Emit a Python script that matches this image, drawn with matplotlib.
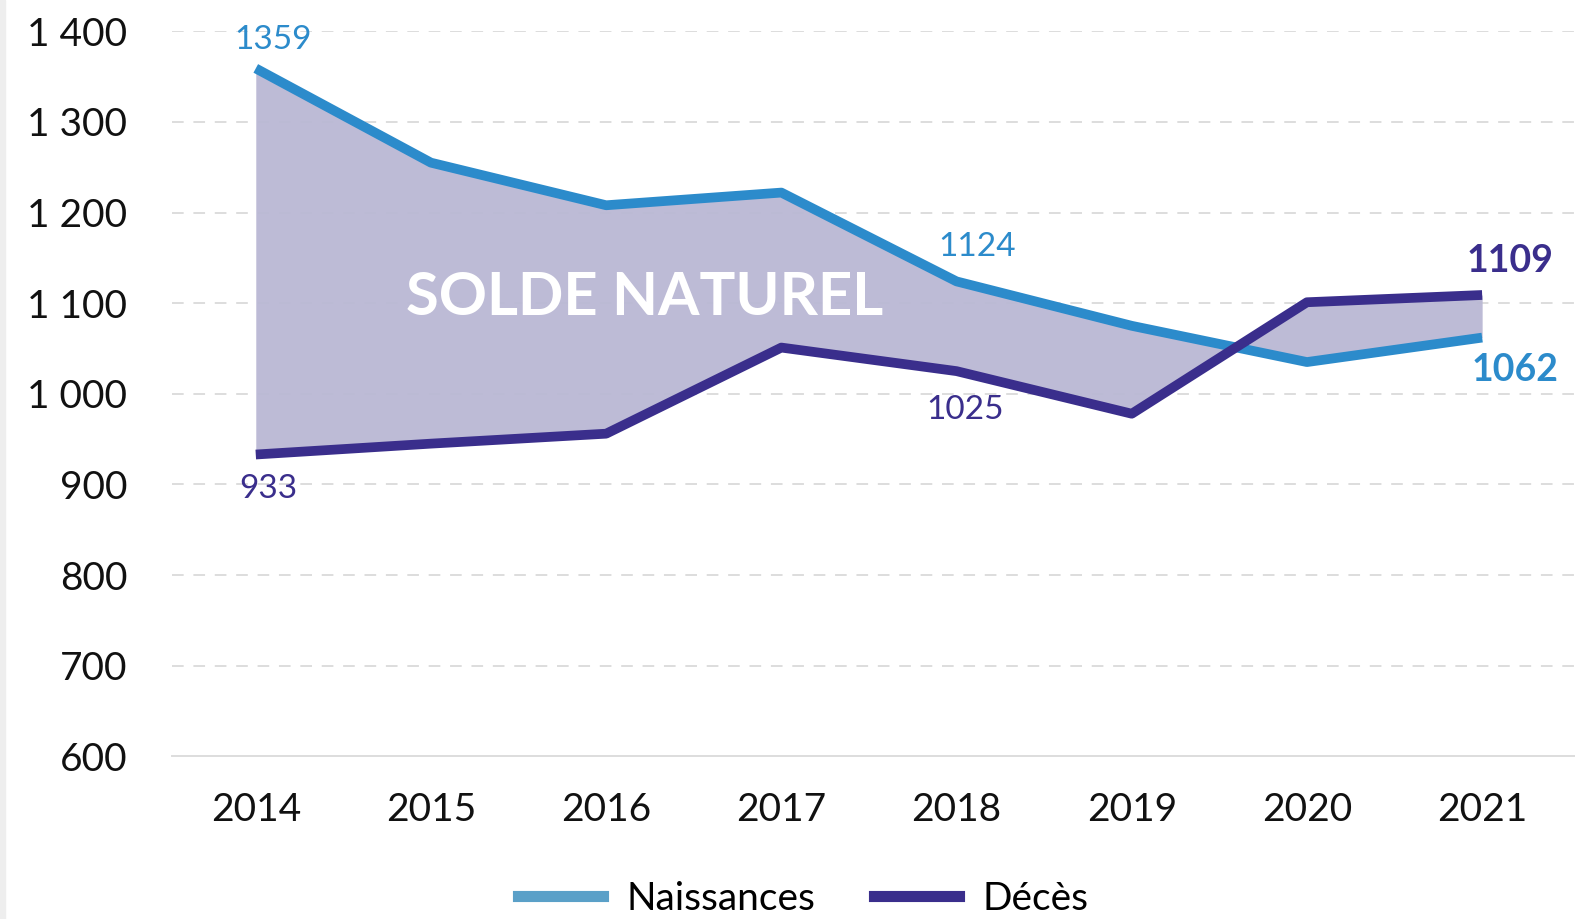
import matplotlib.pyplot as plt
import matplotlib.patches as mpatches
from matplotlib.lines import Line2D

plt.rcParams['font.family'] = ['Lato', 'DejaVu Sans']

# Données
annees = [2014, 2015, 2016, 2017, 2018, 2019, 2020, 2021]
naissances = [1359, 1255, 1208, 1222, 1124, 1075, 1035, 1062]
deces = [933, 945, 956, 1051, 1025, 978, 1101, 1109]
yticks = [600, 700, 800, 900, 1000, 1100, 1200, 1300, 1400]
ytick_labels = ['600', '700', '800', '900', '1 000', '1 100', '1 200', '1 300', '1 400']

c_naiss = '#2C8BCB'
c_deces = '#3A2E8C'
c_fill = '#BAB8D4'

fig = plt.figure(figsize=(15.75, 9.19), dpi=100)
fig.patches.append(mpatches.Rectangle((0, 0), 5 / 1575, 1, transform=fig.transFigure,
                                      color='#EEEEEE', zorder=0))
ax = fig.add_axes([0.109, 0.177, 0.891, 0.789])

ax.fill_between(annees, naissances, deces, color=c_fill, alpha=0.95, lw=0, zorder=1)
ax.plot(annees, naissances, color=c_naiss, lw=7, solid_capstyle='butt', zorder=3, clip_on=False)
ax.plot(annees, deces, color=c_deces, lw=7, solid_capstyle='butt', zorder=4, clip_on=False)

ax.set_xlim(2013.52, 2021.53)
ax.set_ylim(600, 1400)
ax.set_yticks(yticks)
ax.set_yticklabels(ytick_labels)
ax.set_xticks(annees)
ax.tick_params(axis='both', length=0, labelsize=28, colors='#111111')
ax.tick_params(axis='y', pad=32)
ax.tick_params(axis='x', pad=26)
for lab in ax.get_yticklabels():
    lab.set_horizontalalignment('right')

for y in yticks[1:]:
    ax.axhline(y, color='#DDDDDD', lw=1.4, ls=(0, (6, 5)), zorder=0)
for s in ['top', 'right', 'left']:
    ax.spines[s].set_visible(False)
ax.spines['bottom'].set_color('#DDDDDD')
ax.spines['bottom'].set_linewidth(1.4)

# Étiquettes
ax.text(2014.1, 1390, '1359', color=c_naiss, fontsize=24, ha='center', va='center')
ax.text(2014.07, 895, '933', color=c_deces, fontsize=24, ha='center', va='center')
ax.text(2018.12, 1162, '1124', color=c_naiss, fontsize=24, ha='center', va='center')
ax.text(2018.05, 982, '1025', color=c_deces, fontsize=24, ha='center', va='center')
ax.text(2021.16, 1146, '1109', color=c_deces, fontsize=27, fontweight='bold', ha='center', va='center')
ax.text(2021.19, 1026, '1062', color=c_naiss, fontsize=27, fontweight='bold', ha='center', va='center')
ax.text(2016.22, 1106, 'SOLDE NATUREL', color='white', fontsize=43, fontweight='bold',
        ha='center', va='center', zorder=5)

handles = [Line2D([], [], color='#5AA0C8', lw=8),
           Line2D([], [], color=c_deces, lw=8)]
fig.legend(handles, ['Naissances', 'Décès'], loc='center', bbox_to_anchor=(0.51, 0.022),
           ncol=2, frameon=False, fontsize=28, handlelength=2.2, columnspacing=1.5,
           handletextpad=0.6)

fig.savefig('out.png', dpi=100)
